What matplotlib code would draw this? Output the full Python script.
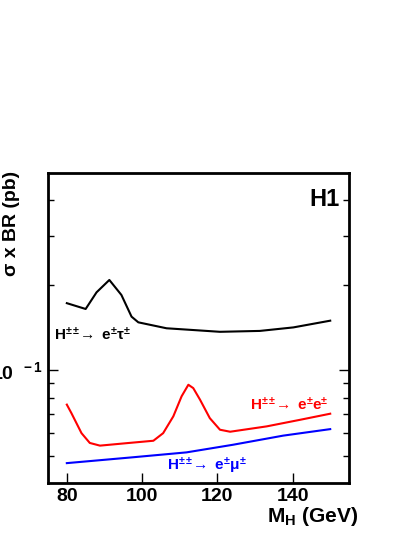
import matplotlib
matplotlib.use("Agg")
import matplotlib.pyplot as plt
from matplotlib.ticker import FixedLocator, NullFormatter

plt.rcParams['font.family'] = ['Liberation Sans', 'DejaVu Sans']
plt.rcParams['font.weight'] = 'bold'
plt.rcParams['mathtext.fontset'] = 'custom'
plt.rcParams['mathtext.rm'] = 'Liberation Sans:bold'
plt.rcParams['mathtext.it'] = 'Liberation Sans:bold'
plt.rcParams['mathtext.bf'] = 'Liberation Sans:bold'

tau_m = [80, 85, 87.9, 91.3, 94.5, 97.2, 99, 106.5, 113.6, 120.7, 131.3, 140.2, 150]
tau_v = [0.173, 0.165, 0.189, 0.209, 0.185, 0.155, 0.148, 0.141, 0.139, 0.137, 0.138, 0.142, 0.150]
ee_m = [80, 81.2, 83.9, 86.1, 88.8, 95.9, 103, 105.6, 108.3, 110.5, 112.3, 113.6, 115.4, 118, 120.7, 123.4, 133.1, 142, 150]
ee_v = [0.0757, 0.0707, 0.060, 0.0554, 0.0542, 0.0553, 0.0564, 0.060, 0.0688, 0.081, 0.089, 0.0866, 0.0788, 0.0678, 0.0617, 0.0607, 0.0634, 0.0669, 0.0703]
mu_m = [80, 97.6, 111.8, 124.2, 137.5, 150]
mu_v = [0.047, 0.0493, 0.0513, 0.0546, 0.0588, 0.0620]

fig = plt.figure(figsize=(4.19, 5.42), dpi=100)
ax = fig.add_axes([0.1146, 0.109, 0.7184, 0.572])
ax.plot(tau_m, tau_v, color='black', lw=1.5)
ax.plot(ee_m, ee_v, color='red', lw=1.5)
ax.plot(mu_m, mu_v, color='blue', lw=1.5)
ax.set_yscale('log')
ax.set_xlim(75, 155)
ax.set_ylim(0.04, 0.5)
ax.set_xticks([80, 100, 120, 140])
ax.yaxis.set_major_locator(FixedLocator([0.1]))
ax.yaxis.set_minor_locator(FixedLocator([0.05, 0.06, 0.07, 0.08, 0.09, 0.2, 0.3, 0.4]))
ax.yaxis.set_minor_formatter(NullFormatter())
ax.set_yticklabels([r'$10^{\ \ -1}$'])
ax.tick_params(which='both', direction='in', right=True, top=True, labelsize=14, width=1)
ax.tick_params(which='major', length=7)
ax.tick_params(which='minor', length=4)
ax.tick_params(axis='x', top=False)
for s in ax.spines.values():
    s.set_linewidth(2)
fig.text(0.028, 0.685, 'σ x BR (pb)', rotation=90, ha='center', va='top', fontsize=14, fontweight='bold')
ax.set_xlabel(r'M$_{\rm H}$ (GeV)', fontsize=15, fontweight='bold', loc='right', labelpad=2)
ax.xaxis.set_label_coords(1.03, -0.07)
ax.text(0.97, 0.95, 'H1', transform=ax.transAxes, ha='right', va='top', fontsize=17, fontweight='bold')
ax.text(76.5, 0.128, r'H$^{\pm\pm}\!\!\rightarrow$ e$^{\pm}\tau^{\pm}$', fontsize=11, color='black')
ax.text(149.5, 0.0705, r'H$^{\pm\pm}\!\!\rightarrow$ e$^{\pm}$e$^{\pm}$', fontsize=11, color='red', ha='right', va='bottom')
ax.text(106.5, 0.0445, r'H$^{\pm\pm}\!\!\rightarrow$ e$^{\pm}\mu^{\pm}$', fontsize=11, color='blue')
fig.savefig('out.png', dpi=100)
